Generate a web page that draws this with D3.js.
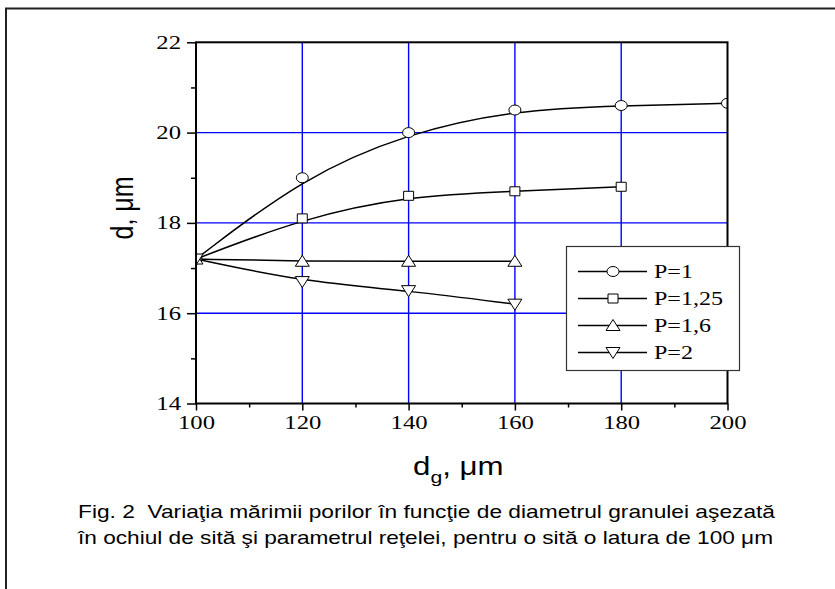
<!DOCTYPE html>
<html>
<head>
<meta charset="utf-8">
<script src="https://cdn.jsdelivr.net/npm/d3@7"></script>
<style>
  body { margin: 0; background: #fff; }
  svg { display: block; }
</style>
</head>
<body>
<div id="chart"></div>
<script>
// data
var dg = [100, 120, 140, 160, 180, 200];
var p1 = [17.2, 19.0, 20.0, 20.5, 20.6, 20.65];
var p125 = [17.2, 18.1, 18.6, 18.7, 18.8];
var p16 = [17.2, 17.15, 17.15, 17.15];
var p2 = [17.2, 16.7, 16.5, 16.2];
var seriesNames = ["P=1", "P=1,25", "P=1,6", "P=2"];
var seriesShapes = ["circle", "square", "up", "down"];
var xTicks = [100, 120, 140, 160, 180, 200];
var yTicks = [14, 16, 18, 20, 22];

var w = 835;
var h = 589;
var pLeft = 196, pRight = 727.5, pTop = 42.3, pBottom = 403.5;
var stretch = 1.3; // the original figure is wider than tall

var series = [p1, p125, p16, p2].map(function(vals, k) {
  return {
    name: seriesNames[k],
    shape: seriesShapes[k],
    points: vals.map(function(v, i) { return {x: dg[i], y: v}; })
  };
});

var svg = d3.select("#chart")
            .append("svg")
            .attr("width", w)
            .attr("height", h);

// outer frame (only top and left show)
svg.append("path")
   .attr("d", "M6,600 V8.5 H840")
   .attr("fill", "none")
   .attr("stroke", "#222")
   .attr("stroke-width", 2);

var x = d3.scaleLinear().domain([100, 200]).range([pLeft, pRight]);
var y = d3.scaleLinear().domain([14, 22]).range([pBottom, pTop]);

// grid
var gridColor = "#0000ff";
svg.append("g").selectAll("line")
   .data(xTicks.slice(1, -1))
   .enter()
   .append("line")
   .attr("x1", function(d) { return x(d); })
   .attr("x2", function(d) { return x(d); })
   .attr("y1", pTop)
   .attr("y2", pBottom)
   .attr("stroke", gridColor)
   .attr("stroke-width", 1.4);

svg.append("g").selectAll("line")
   .data(yTicks.slice(1, -1))
   .enter()
   .append("line")
   .attr("x1", pLeft)
   .attr("x2", pRight)
   .attr("y1", function(d) { return y(d); })
   .attr("y2", function(d) { return y(d); })
   .attr("stroke", gridColor)
   .attr("stroke-width", 1.4);

// axes
var xAxis = d3.axisBottom(x).tickValues(xTicks).tickSize(7).tickPadding(5);
var xMinor = d3.axisBottom(x).tickValues([110, 130, 150, 170, 190]).tickSize(4).tickFormat("");
var yAxis = d3.axisLeft(y).tickValues(yTicks).tickSize(9).tickPadding(6);
var yMinor = d3.axisLeft(y).tickValues([15, 17, 19, 21]).tickSize(5).tickFormat("");

function styleAxis(g) {
  g.select(".domain").remove();
  g.selectAll("line").attr("stroke", "#000").attr("stroke-width", 1.5);
  g.selectAll("text")
   .attr("fill", "#000")
   .style("font-family", "'Liberation Serif', 'Times New Roman', serif")
   .style("font-size", "19px")
   .attr("transform", "scale(" + stretch + ",1)");
}

svg.append("g").attr("transform", "translate(0," + pBottom + ")").call(xAxis).call(styleAxis);
svg.append("g").attr("transform", "translate(0," + pBottom + ")").call(xMinor).call(styleAxis);
var yg = svg.append("g").attr("transform", "translate(" + pLeft + ",0)").call(yAxis).call(styleAxis);
yg.selectAll("text").attr("x", -15 / stretch);
svg.append("g").attr("transform", "translate(" + pLeft + ",0)").call(yMinor).call(styleAxis);

// clip
svg.append("clipPath")
   .attr("id", "plotclip")
   .append("rect")
   .attr("x", pLeft)
   .attr("y", pTop)
   .attr("width", pRight - pLeft)
   .attr("height", pBottom - pTop);

var line = d3.line()
    .x(function(d) { return x(d.x); })
    .y(function(d) { return y(d.y); })
    .curve(d3.curveBasis);

var plot = svg.append("g").attr("clip-path", "url(#plotclip)");

plot.selectAll("path.curve")
    .data(series)
    .enter()
    .append("path")
    .attr("class", "curve")
    .attr("d", function(d) { return line(d.points); })
    .attr("fill", "none")
    .attr("stroke", "#000")
    .attr("stroke-width", 1.5);

function markerPath(shape) {
  if (shape == "circle") return "M-6,0 A6,5 0 1,0 6,0 A6,5 0 1,0 -6,0 Z";
  if (shape == "square") return "M-5,-4.5 H5 V4.5 H-5 Z";
  if (shape == "up") return "M0,-6 L7,5 L-7,5 Z";
  return "M-7,-5 L7,-5 L0,6 Z";
}

series.forEach(function(s) {
  plot.selectAll(null)
      .data(s.points)
      .enter()
      .append("path")
      .attr("transform", function(d) { return "translate(" + x(d.x) + "," + y(d.y) + ")"; })
      .attr("d", markerPath(s.shape))
      .attr("fill", "#fff")
      .attr("stroke", "#000")
      .attr("stroke-width", 1);
});

// plot frame
svg.append("rect")
   .attr("x", pLeft)
   .attr("y", pTop)
   .attr("width", pRight - pLeft)
   .attr("height", pBottom - pTop)
   .attr("fill", "none")
   .attr("stroke", "#000")
   .attr("stroke-width", 2);

// legend
var lg = svg.append("g");
lg.append("rect")
  .attr("x", 566.5)
  .attr("y", 246.5)
  .attr("width", 173)
  .attr("height", 124)
  .attr("fill", "#fff")
  .attr("stroke", "#333")
  .attr("stroke-width", 1.2);

var rows = lg.selectAll("g.row")
    .data(series)
    .enter()
    .append("g")
    .attr("class", "row")
    .attr("transform", function(d, i) { return "translate(0," + (271.5 + i * 27) + ")"; });

rows.append("line")
    .attr("x1", 578)
    .attr("x2", 647)
    .attr("stroke", "#000")
    .attr("stroke-width", 1.5);

rows.append("path")
    .attr("transform", "translate(613,0)")
    .attr("d", function(d) { return markerPath(d.shape); })
    .attr("fill", "#fff")
    .attr("stroke", "#000");

rows.append("text")
    .attr("transform", "translate(654,6.5) scale(" + stretch + ",1)")
    .style("font-family", "'Liberation Serif', 'Times New Roman', serif")
    .style("font-size", "18.5px")
    .text(function(d) { return d.name; });

// axis titles
svg.append("text")
   .attr("transform", "translate(133,208) rotate(-90) scale(1,1.25)")
   .attr("text-anchor", "middle")
   .style("font-family", "'Liberation Sans', Arial, sans-serif")
   .style("font-size", "25px")
   .text("d, \u03bcm");

var xt = svg.append("text")
   .attr("transform", "translate(413,475) scale(1.25,1)")
   .style("font-family", "'Liberation Sans', Arial, sans-serif")
   .style("font-size", "25px");
xt.append("tspan").text("d");
xt.append("tspan").attr("dy", 8).style("font-size", "17px").text("g");
xt.append("tspan").attr("dy", -8).text(", \u03bcm");

// caption
var cap = ["Fig. 2  Varia\u0163ia m\u0103rimii porilor \u00een func\u0163ie de diametrul granulei a\u015fezat\u0103",
           "\u00een ochiul de sit\u0103 \u015fi parametrul re\u0163elei, pentru o sit\u0103 o latura de 100 \u03bcm"];
var capWidths = [697, 695];
svg.selectAll("text.cap")
   .data(cap)
   .enter()
   .append("text")
   .attr("class", "cap")
   .attr("x", 78)
   .attr("y", function(d, i) { return 518 + i * 26; })
   .attr("textLength", function(d, i) { return capWidths[i]; })
   .attr("lengthAdjust", "spacingAndGlyphs")
   .style("white-space", "pre")
   .style("font-family", "'Liberation Sans', Arial, sans-serif")
   .style("font-size", "19px")
   .text(function(d) { return d; });
</script>
</body>
</html>
